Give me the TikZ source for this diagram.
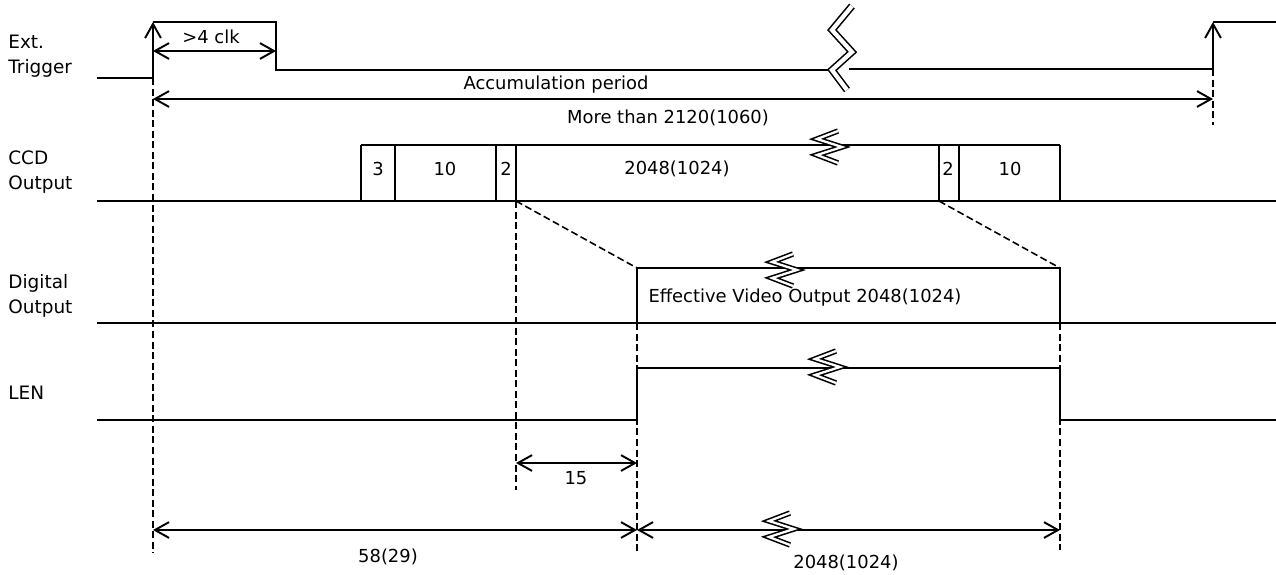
\documentclass[tikz,border=0pt]{standalone}
\usepackage{fontspec}
\setmainfont{DejaVu Sans}
\usetikzlibrary{arrows.meta}

\begin{document}
\begin{tikzpicture}[x=0.02cm, y=-0.02cm,
  >={Straight Barb[length=8pt,width=9pt,line width=1.1pt]},
  sig/.style={line width=1.1pt},
  sigthick/.style={line width=1.7pt},
  guide/.style={line width=0.9pt, dash pattern=on 4pt off 2pt},
  dim/.style={<->, line width=1.1pt},
  rise/.style={->, line width=1.1pt},
  lbl/.style={font=\fontsize{10.5}{14}\selectfont, align=left, anchor=west, inner sep=0pt},
  txt/.style={font=\fontsize{10.2}{12}\selectfont, inner sep=0pt},
  brk/.style={line width=0.9pt, double=white, double distance=1.3pt, line join=miter},
  brkmark/.pic={\draw[brk] (8,-16) -- (-13,-8) -- (12,0) -- (-13,8) -- (8,16);}
]
\useasboundingbox (0,0) rectangle (1276,575);

% signal names
\node[lbl] (lblTrig) at (8,56) {Ext.\\Trigger};
\node[lbl] (lblCcd) at (8,172) {CCD\\Output};
\node[lbl] (lblDig) at (8,296) {Digital\\Output};
\node[lbl] (lblLen) at (8,393) {LEN};

% Ext. Trigger
\coordinate (trL) at (97,78);
\coordinate (trA) at (153,78);
\coordinate (trAh) at (153,22);
\coordinate (trB) at (276,22);
\coordinate (trBl) at (276,70);
\coordinate (trCut) at (832,70);
\coordinate (trRes) at (849,69);
\coordinate (trK) at (1213,69);
\coordinate (trKh) at (1213,22);
\coordinate (trR) at (1276,22);
\draw[sig] (trL) -- (trA);
\draw[rise] (trA) -- (trAh);
\draw[sig] (trAh) -- (trB) -- (trBl) -- (trCut);
\draw[sigthick] (trRes) -- (trK);
\draw[rise] (trK) -- (trKh);
\draw[sig] (trKh) -- (trR);
\draw[brk, double distance=2.4pt] (852,6) -- (832,30) -- (852,52) -- (832,70) -- (847,90);

% timing marks
\coordinate (clkA) at (153,51);
\coordinate (clkB) at (276,51);
\draw[dim] (clkA) -- (clkB);
\node[txt] (clk) at (211,37) {>4 clk};
\coordinate (accA) at (153,99);
\coordinate (accB) at (1213,99);
\draw[dim] (accA) -- (accB);
\node[txt] (acc) at (556,85) {Accumulation period};
\node[txt] (accMin) at (668,118) {More than 2120(1060)};

% CCD Output
\coordinate (ccdL) at (97,201);
\coordinate (ccdR) at (1276,201);
\draw[sig] (ccdL) -- (ccdR);
\draw[sig] (361,145) -- (1060,145);
\foreach \x in {361,395,516,939,959,1060}
  \draw[sig] (\x,201) -- (\x,145);
\draw[sigthick] (496,201) -- (496,145);
\node[txt] (c3) at (378,169) {3};
\node[txt] (c10a) at (445,169) {10};
\node[txt] (c2a) at (506,169) {2};
\node[txt] (cVid) at (677,169) {2048(1024)};
\node[txt] (c2b) at (948,169) {2};
\node[txt] (c10b) at (1010,169) {10};
\pic at (830,147) {brkmark};

% Digital Output
\coordinate (digL) at (97,323);
\coordinate (digR) at (1276,323);
\coordinate (digA) at (637,323);
\coordinate (digAh) at (637,268);
\coordinate (digB) at (1060,323);
\coordinate (digBh) at (1060,268);
\draw[sig] (digL) -- (digR);
\draw[sig] (digA) -- (digAh) -- (digBh) -- (digB);
\node[txt] (dVid) at (805,298) {Effective Video Output 2048(1024)};
\pic at (785,270) {brkmark};

% LEN
\coordinate (lenL) at (97,420);
\coordinate (lenA) at (637,420);
\coordinate (lenAh) at (637,368);
\coordinate (lenBh) at (1060,368);
\coordinate (lenB) at (1060,420);
\coordinate (lenR) at (1276,420);
\draw[sigthick] (lenL) -- (lenA);
\draw[sig] (lenA) -- (lenAh) -- (lenBh) -- (lenB) -- (lenR);
\pic at (828,367) {brkmark};

% guides
\coordinate (ccdE) at (516,201);
\coordinate (ccdF) at (939,201);
\draw[guide] (trA) -- (153,553);
\draw[guide] (trK) -- (1213,125);
\draw[guide] (ccdE) -- (digAh);
\draw[guide] (ccdF) -- (digBh);
\draw[guide] (ccdE) -- (516,490);
\draw[guide] (digA) -- (637,552);
\draw[guide] (digB) -- (1060,550);

% delays
\coordinate (dlyA) at (516,463);
\coordinate (dlyB) at (637,463);
\draw[dim] (dlyA) -- (dlyB);
\node[txt] (dly) at (576,478) {15};
\coordinate (botA) at (153,530);
\coordinate (botB) at (637,530);
\coordinate (botC) at (1060,530);
\draw[dim] (botA) -- (botB);
\draw[dim] (botB) -- (botC);
\node[txt] (bot1) at (388,557) {58(29)};
\node[txt] (bot2) at (846,563) {2048(1024)};
\pic at (782,529) {brkmark};
\end{tikzpicture}
\end{document}
